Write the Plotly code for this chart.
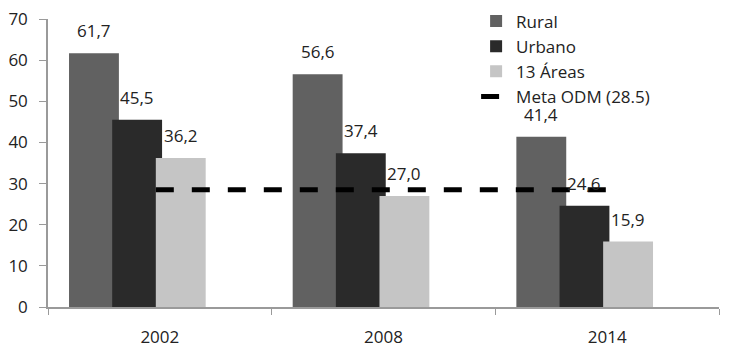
import plotly.graph_objects as go

years = ["2002", "2008", "2014"]
rural = [61.7, 56.6, 41.4]
urbano = [45.5, 37.4, 24.6]
areas13 = [36.2, 27.0, 15.9]
meta_odm = 28.5

series_names = ["Rural", "Urbano", "13 Áreas"]
series_vals = [rural, urbano, areas13]
colors = ["#616161", "#2a2a2a", "#c5c5c5"]
offsets = [-0.406, -0.213, -0.018]
bar_w = 0.223

FONT = "Open Sans"
TXT = "#222222"

fig = go.Figure()
idx = list(range(len(years)))

for name, vals, col, off in zip(series_names, series_vals, colors, offsets):
    fig.add_trace(go.Bar(
        x=years, y=vals, name=name, marker=dict(color=col, line=dict(width=0)),
        offset=off, width=bar_w,
    ))

# Meta ODM dashed line drawn on an overlaying numeric axis
x_start = idx[0] + offsets[2]
x_end = idx[-1] + offsets[1] + bar_w
fig.add_trace(go.Scatter(
    x=[x_start, x_end], y=[meta_odm, meta_odm], xaxis="x2", mode="lines",
    name="Meta ODM (28.5)", line=dict(color="black", width=5, dash="18px,18px"),
))

annotations = []
for vals, off in zip(series_vals, offsets):
    for i, v in zip(idx, vals):
        annotations.append(dict(
            x=i + off + bar_w / 2, y=v, xref="x2", yref="y",
            text=f"{v:.1f}".replace(".", ","), showarrow=False,
            yanchor="bottom", yshift=9,
            font=dict(family=FONT, size=17, color=TXT),
        ))

fig.update_layout(
    width=737, height=354,
    margin=dict(l=48, r=18, t=19, b=47, autoexpand=False),
    paper_bgcolor="white", plot_bgcolor="white",
    barmode="overlay",
    showlegend=True,
    legend=dict(x=0.646, y=0.99, xref="container", yref="container",
                xanchor="left", yanchor="top",
                bgcolor="rgba(0,0,0,0)", font=dict(family=FONT, size=17, color=TXT),
                tracegroupgap=0),
    font=dict(family=FONT, size=17, color=TXT),
    annotations=annotations,
    xaxis=dict(type="category", range=[-0.5, 2.5], showgrid=False, automargin=False,
               showline=True, linecolor="#9a9a9a", linewidth=1.5,
               ticks="outside", tickson="boundaries", ticklen=6, tickcolor="#9a9a9a",
               ticklabelstandoff=14,
               tickfont=dict(family=FONT, size=17, color=TXT)),
    xaxis2=dict(overlaying="x", range=[-0.5, 2.5], visible=False),
    yaxis=dict(range=[0, 70], dtick=10, showgrid=False, zeroline=False, automargin=False,
               showline=True, linecolor="#9a9a9a", linewidth=1.5,
               ticks="outside", ticklen=7, tickcolor="#9a9a9a",
               ticklabelstandoff=8,
               tickfont=dict(family=FONT, size=17, color=TXT)),
)

fig.write_html("out.html")
